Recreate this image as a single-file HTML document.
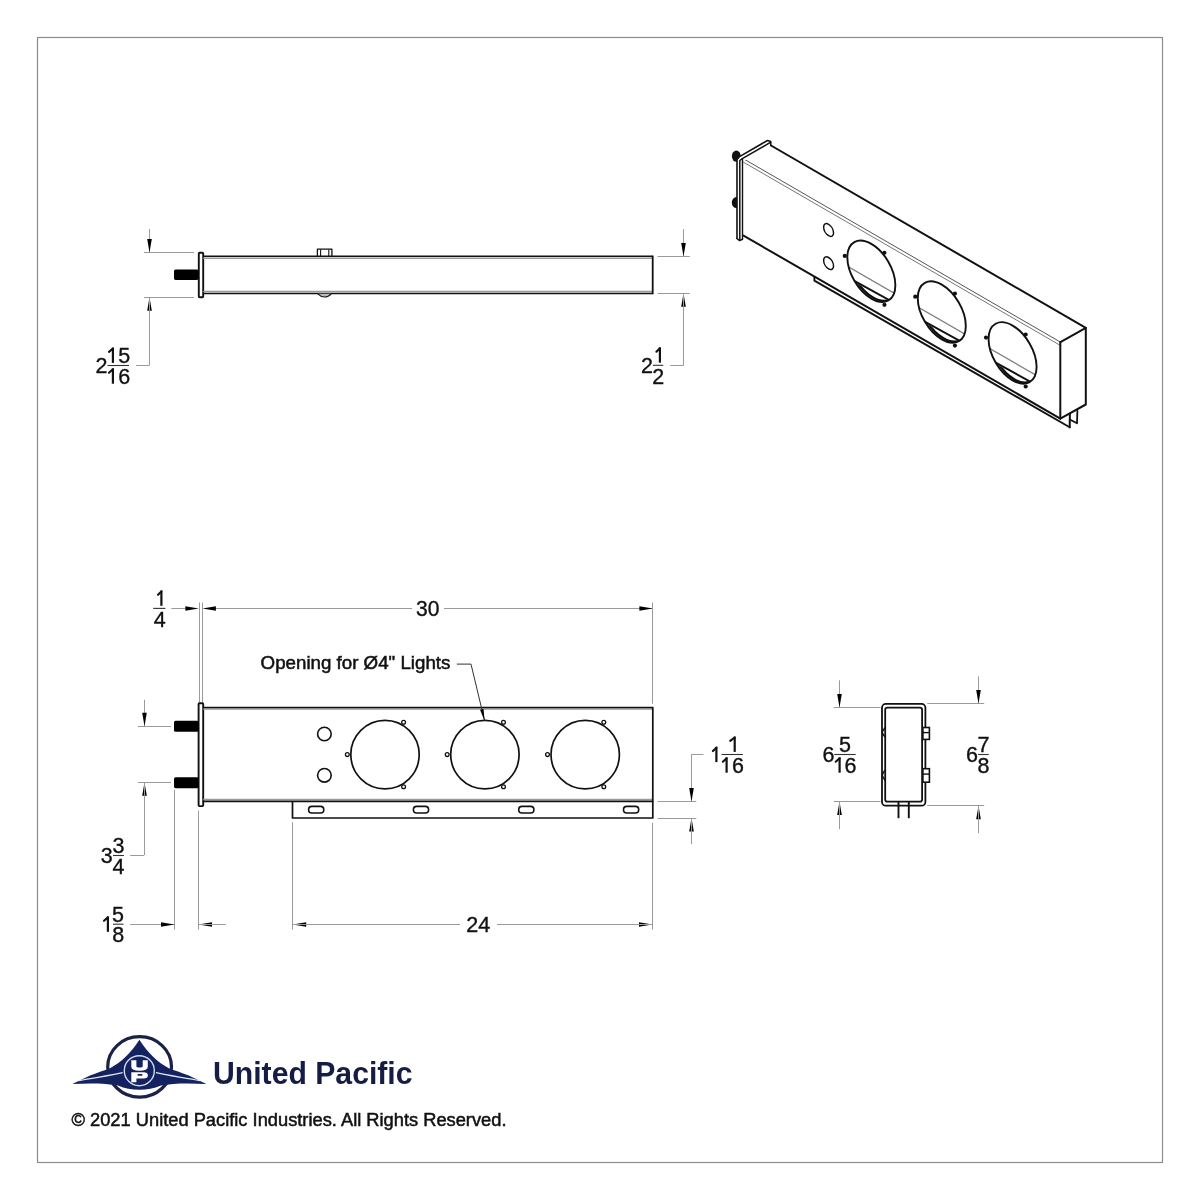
<!DOCTYPE html>
<html><head><meta charset="utf-8"><style>html,body{margin:0;padding:0;background:#fff;width:1200px;height:1200px;overflow:hidden}svg{display:block;will-change:transform}</style></head><body>
<svg width="1200" height="1200" viewBox="0 0 1200 1200" font-family="Liberation Sans, sans-serif">
<rect x="0" y="0" width="1200" height="1200" fill="#fff"/>
<rect x="37.5" y="37.5" width="1125" height="1125" fill="none" stroke="#8c8c8c" stroke-width="1.2"/>
<line x1="149.50" y1="229.00" x2="149.50" y2="252.50" stroke="#9a9a9a" stroke-width="1" />
<polygon points="149.50,252.50 147.20,239.00 151.80,239.00" fill="#000"/>
<line x1="144.00" y1="252.50" x2="194.00" y2="252.50" stroke="#9a9a9a" stroke-width="1" />
<line x1="144.00" y1="297.50" x2="194.00" y2="297.50" stroke="#9a9a9a" stroke-width="1" />
<polygon points="149.50,297.30 151.80,310.80 147.20,310.80" fill="#000"/>
<line x1="149.50" y1="297.30" x2="149.50" y2="365.30" stroke="#9a9a9a" stroke-width="1" />
<line x1="136.00" y1="365.50" x2="149.50" y2="365.50" stroke="#9a9a9a" stroke-width="1" />
<rect x="198.8" y="252.8" width="4.4" height="44.4" fill="#fff" stroke="#111" stroke-width="1.9" rx="0.8"/>
<rect x="174" y="269.4" width="24.5" height="10.5" rx="1.6" fill="#000"/>
<line x1="203.20" y1="256.30" x2="652.70" y2="256.30" stroke="#111" stroke-width="1.5" />
<line x1="203.20" y1="258.20" x2="652.70" y2="258.20" stroke="#9a9a9a" stroke-width="1.4" />
<line x1="203.20" y1="291.50" x2="652.70" y2="291.50" stroke="#9a9a9a" stroke-width="1.4" />
<line x1="203.20" y1="293.50" x2="652.70" y2="293.50" stroke="#111" stroke-width="1.5" />
<line x1="652.70" y1="255.60" x2="652.70" y2="294.20" stroke="#111" stroke-width="1.8" />
<polyline points="317.40,256.00 317.40,249.20 331.90,249.20 331.90,256.00" fill="none" stroke="#111" stroke-width="1.3" stroke-linejoin="round" />
<line x1="320.60" y1="249.50" x2="320.60" y2="256.00" stroke="#111" stroke-width="1.1" />
<line x1="328.80" y1="249.50" x2="328.80" y2="256.00" stroke="#111" stroke-width="1.1" />
<path d="M317.8,293.8 Q321,297 324.6,297 Q328.3,297 331.3,293.8" fill="#bbb" stroke="#111" stroke-width="1.2"/>
<line x1="683.50" y1="229.00" x2="683.50" y2="256.40" stroke="#9a9a9a" stroke-width="1" />
<polygon points="683.50,256.40 681.20,242.90 685.80,242.90" fill="#000"/>
<line x1="657.50" y1="256.50" x2="689.70" y2="256.50" stroke="#9a9a9a" stroke-width="1" />
<line x1="657.50" y1="293.50" x2="689.70" y2="293.50" stroke="#9a9a9a" stroke-width="1" />
<polygon points="683.50,293.30 685.80,306.80 681.20,306.80" fill="#000"/>
<line x1="683.50" y1="293.30" x2="683.50" y2="365.20" stroke="#9a9a9a" stroke-width="1" />
<line x1="670.20" y1="365.50" x2="683.70" y2="365.50" stroke="#9a9a9a" stroke-width="1" />
<line x1="171.30" y1="608.50" x2="185.00" y2="608.50" stroke="#9a9a9a" stroke-width="1" />
<polygon points="198.80,608.50 185.30,610.80 185.30,606.20" fill="#000"/>
<line x1="216.00" y1="608.50" x2="412.00" y2="608.50" stroke="#9a9a9a" stroke-width="1" />
<polygon points="202.40,608.50 215.90,606.20 215.90,610.80" fill="#000"/>
<line x1="444.00" y1="608.50" x2="652.90" y2="608.50" stroke="#9a9a9a" stroke-width="1" />
<polygon points="652.90,608.50 639.40,610.80 639.40,606.20" fill="#000"/>
<line x1="199.50" y1="602.50" x2="199.50" y2="702.50" stroke="#9a9a9a" stroke-width="1" />
<line x1="202.50" y1="602.50" x2="202.50" y2="702.50" stroke="#9a9a9a" stroke-width="1" />
<line x1="652.50" y1="602.50" x2="652.50" y2="703.80" stroke="#9a9a9a" stroke-width="1" />
<rect x="198.6" y="703.3" width="4.6" height="102.8" fill="#fff" stroke="#111" stroke-width="1.9" rx="0.8"/>
<rect x="174" y="720.8" width="24.6" height="11" rx="1.6" fill="#000"/>
<rect x="174" y="777.2" width="24.6" height="11" rx="1.6" fill="#000"/>
<line x1="203.20" y1="709.00" x2="652.00" y2="709.00" stroke="#9a9a9a" stroke-width="1.5" />
<line x1="203.20" y1="799.60" x2="652.00" y2="799.60" stroke="#9a9a9a" stroke-width="1.5" />
<polyline points="203.20,707.50 652.80,707.50 652.80,801.40 203.20,801.40" fill="none" stroke="#111" stroke-width="1.7" stroke-linejoin="round" />
<polyline points="292.50,801.50 292.50,818.00 652.80,818.00 652.80,801.50" fill="none" stroke="#111" stroke-width="1.7" stroke-linejoin="round" />
<rect x="308.60" y="806.4" width="15.2" height="6.6" rx="3.3" fill="none" stroke="#111" stroke-width="1.6"/>
<rect x="413.40" y="806.4" width="15.2" height="6.6" rx="3.3" fill="none" stroke="#111" stroke-width="1.6"/>
<rect x="518.70" y="806.4" width="15.2" height="6.6" rx="3.3" fill="none" stroke="#111" stroke-width="1.6"/>
<rect x="623.50" y="806.4" width="15.2" height="6.6" rx="3.3" fill="none" stroke="#111" stroke-width="1.6"/>
<circle cx="324.4" cy="734" r="6.8" fill="none" stroke="#111" stroke-width="1.6"/>
<circle cx="324.4" cy="775.3" r="6.8" fill="none" stroke="#111" stroke-width="1.6"/>
<circle cx="385" cy="754.6" r="34.2" fill="none" stroke="#111" stroke-width="1.7"/>
<circle cx="403.60" cy="722.20" r="1.9" fill="none" stroke="#111" stroke-width="1.3"/>
<circle cx="347.30" cy="754.60" r="1.9" fill="none" stroke="#111" stroke-width="1.3"/>
<circle cx="403.60" cy="786.80" r="1.9" fill="none" stroke="#111" stroke-width="1.3"/>
<circle cx="484.9" cy="754.6" r="34.2" fill="none" stroke="#111" stroke-width="1.7"/>
<circle cx="503.50" cy="722.20" r="1.9" fill="none" stroke="#111" stroke-width="1.3"/>
<circle cx="447.20" cy="754.60" r="1.9" fill="none" stroke="#111" stroke-width="1.3"/>
<circle cx="503.50" cy="786.80" r="1.9" fill="none" stroke="#111" stroke-width="1.3"/>
<circle cx="585.2" cy="754.6" r="34.2" fill="none" stroke="#111" stroke-width="1.7"/>
<circle cx="603.80" cy="722.20" r="1.9" fill="none" stroke="#111" stroke-width="1.3"/>
<circle cx="547.50" cy="754.60" r="1.9" fill="none" stroke="#111" stroke-width="1.3"/>
<circle cx="603.80" cy="786.80" r="1.9" fill="none" stroke="#111" stroke-width="1.3"/>
<line x1="456.80" y1="664.10" x2="471.00" y2="664.10" stroke="#333" stroke-width="1" />
<line x1="471.00" y1="664.10" x2="484.60" y2="720.80" stroke="#333" stroke-width="1" />
<polygon points="484.60,721.00 480.05,709.75 483.55,708.91" fill="#000"/>
<line x1="144.50" y1="699.80" x2="144.50" y2="726.20" stroke="#9a9a9a" stroke-width="1" />
<polygon points="144.50,726.20 142.20,712.70 146.80,712.70" fill="#000"/>
<line x1="137.80" y1="726.50" x2="171.00" y2="726.50" stroke="#9a9a9a" stroke-width="1" />
<line x1="137.80" y1="782.50" x2="171.00" y2="782.50" stroke="#9a9a9a" stroke-width="1" />
<polygon points="144.50,782.20 146.80,795.70 142.20,795.70" fill="#000"/>
<line x1="144.50" y1="782.20" x2="144.50" y2="855.00" stroke="#9a9a9a" stroke-width="1" />
<line x1="130.10" y1="855.50" x2="144.10" y2="855.50" stroke="#9a9a9a" stroke-width="1" />
<line x1="130.10" y1="924.50" x2="174.50" y2="924.50" stroke="#9a9a9a" stroke-width="1" />
<polygon points="174.50,924.50 161.00,926.80 161.00,922.20" fill="#000"/>
<line x1="174.50" y1="789.60" x2="174.50" y2="929.60" stroke="#9a9a9a" stroke-width="1" />
<line x1="198.50" y1="810.60" x2="198.50" y2="929.60" stroke="#9a9a9a" stroke-width="1" />
<polygon points="198.50,924.50 212.00,922.20 212.00,926.80" fill="#000"/>
<line x1="198.50" y1="924.50" x2="225.80" y2="924.50" stroke="#9a9a9a" stroke-width="1" />
<line x1="292.50" y1="822.30" x2="292.50" y2="929.60" stroke="#9a9a9a" stroke-width="1" />
<line x1="652.50" y1="822.80" x2="652.50" y2="929.60" stroke="#9a9a9a" stroke-width="1" />
<polygon points="292.70,924.50 306.20,922.20 306.20,926.80" fill="#000"/>
<polygon points="652.50,924.50 639.00,926.80 639.00,922.20" fill="#000"/>
<line x1="292.70" y1="924.50" x2="460.00" y2="924.50" stroke="#9a9a9a" stroke-width="1" />
<line x1="497.00" y1="924.50" x2="652.50" y2="924.50" stroke="#9a9a9a" stroke-width="1" />
<line x1="657.50" y1="801.50" x2="696.30" y2="801.50" stroke="#9a9a9a" stroke-width="1" />
<line x1="657.50" y1="818.50" x2="696.30" y2="818.50" stroke="#9a9a9a" stroke-width="1" />
<line x1="691.50" y1="754.80" x2="691.50" y2="801.50" stroke="#9a9a9a" stroke-width="1" />
<polygon points="691.50,801.50 689.20,788.00 693.80,788.00" fill="#000"/>
<polygon points="691.50,818.00 693.80,831.50 689.20,831.50" fill="#000"/>
<line x1="691.50" y1="818.00" x2="691.50" y2="844.00" stroke="#9a9a9a" stroke-width="1" />
<line x1="691.20" y1="754.50" x2="703.40" y2="754.50" stroke="#9a9a9a" stroke-width="1" />
<rect x="882" y="703.9" width="43.4" height="101.8" rx="3.8" fill="none" stroke="#111" stroke-width="1.8"/>
<rect x="885.2" y="707.7" width="36.9" height="94" rx="2.2" fill="none" stroke="#111" stroke-width="1.8"/>
<rect x="922.9" y="727.5" width="6.5" height="11.9" fill="#fff" stroke="#111" stroke-width="1.6"/>
<line x1="922.90" y1="732.60" x2="929.40" y2="732.60" stroke="#111" stroke-width="1.4" />
<rect x="922.9" y="768.7" width="6.5" height="13.5" fill="#fff" stroke="#111" stroke-width="1.6"/>
<line x1="922.90" y1="774.10" x2="929.40" y2="774.10" stroke="#111" stroke-width="1.4" />
<path d="M885.2,727.5 Q882.5,730.9 882.3,732.4 Q882.5,733.9 885.2,737.2" fill="none" stroke="#111" stroke-width="1.4"/>
<path d="M885.2,769.8 Q882.5,773.7 882.3,775.2 Q882.5,776.7 885.2,780.6" fill="none" stroke="#111" stroke-width="1.4"/>
<line x1="898.50" y1="802.00" x2="898.50" y2="818.20" stroke="#111" stroke-width="1.9" />
<line x1="908.80" y1="802.00" x2="908.80" y2="818.20" stroke="#111" stroke-width="1.9" />
<line x1="833.70" y1="707.50" x2="880.50" y2="707.50" stroke="#9a9a9a" stroke-width="1" />
<line x1="833.70" y1="801.50" x2="880.50" y2="801.50" stroke="#9a9a9a" stroke-width="1" />
<line x1="839.50" y1="680.30" x2="839.50" y2="707.50" stroke="#9a9a9a" stroke-width="1" />
<polygon points="839.50,707.50 837.20,694.00 841.80,694.00" fill="#000"/>
<polygon points="839.50,801.40 841.80,814.90 837.20,814.90" fill="#000"/>
<line x1="839.50" y1="801.40" x2="839.50" y2="829.10" stroke="#9a9a9a" stroke-width="1" />
<line x1="927.20" y1="703.50" x2="984.20" y2="703.50" stroke="#9a9a9a" stroke-width="1" />
<line x1="927.20" y1="805.50" x2="984.20" y2="805.50" stroke="#9a9a9a" stroke-width="1" />
<line x1="978.50" y1="676.30" x2="978.50" y2="703.60" stroke="#9a9a9a" stroke-width="1" />
<polygon points="978.50,703.60 976.20,690.10 980.80,690.10" fill="#000"/>
<polygon points="978.50,805.80 980.80,819.30 976.20,819.30" fill="#000"/>
<line x1="978.50" y1="805.80" x2="978.50" y2="833.10" stroke="#9a9a9a" stroke-width="1" />
<text x="427.8" y="616" font-size="21.5" text-anchor="middle" fill="#111" stroke="#111" stroke-width="0.35" textLength="23.4" lengthAdjust="spacingAndGlyphs">30</text>
<text x="260.6" y="669.4" font-size="17.5" text-anchor="start" fill="#111" stroke="#111" stroke-width="0.5" font-weight="normal" textLength="189.8" lengthAdjust="spacingAndGlyphs">Opening for Ø4" Lights</text>
<text x="478.3" y="931.7" font-size="21.5" text-anchor="middle" fill="#111" stroke="#111" stroke-width="0.35" textLength="24" lengthAdjust="spacingAndGlyphs">24</text>
<line x1="107.50" y1="365.50" x2="129.00" y2="365.50" stroke="#333" stroke-width="1.1" />
<path d="M112.90,347.60 V362.90" stroke="#111" stroke-width="2.2" fill="none"/>
<path d="M112.90,348.50 L109.00,351.90" stroke="#111" stroke-width="2.1" stroke-linecap="round" fill="none"/>
<text x="124.25" y="362.9" font-size="21.5" text-anchor="middle" fill="#111" stroke="#111" stroke-width="0.35">5</text>
<path d="M112.90,368.40 V383.70" stroke="#111" stroke-width="2.2" fill="none"/>
<path d="M112.90,369.30 L109.00,372.70" stroke="#111" stroke-width="2.1" stroke-linecap="round" fill="none"/>
<text x="124.25" y="383.7" font-size="21.5" text-anchor="middle" fill="#111" stroke="#111" stroke-width="0.35">6</text>
<text x="101.6" y="373.1" font-size="21.5" text-anchor="middle" fill="#111" stroke="#111" stroke-width="0.35">2</text>
<line x1="652.90" y1="365.30" x2="663.30" y2="365.30" stroke="#333" stroke-width="1.1" />
<path d="M659.90,347.40 V362.70" stroke="#111" stroke-width="2.2" fill="none"/>
<path d="M659.90,348.30 L656.40,351.70" stroke="#111" stroke-width="2.1" stroke-linecap="round" fill="none"/>
<text x="658.3" y="383.5" font-size="21.5" text-anchor="middle" fill="#111" stroke="#111" stroke-width="0.35">2</text>
<text x="647.1" y="372.90000000000003" font-size="21.5" text-anchor="middle" fill="#111" stroke="#111" stroke-width="0.35">2</text>
<line x1="153.25" y1="608.40" x2="165.40" y2="608.40" stroke="#333" stroke-width="1.1" />
<path d="M161.40,590.50 V605.80" stroke="#111" stroke-width="2.2" fill="none"/>
<path d="M161.40,591.40 L158.00,594.80" stroke="#111" stroke-width="2.1" stroke-linecap="round" fill="none"/>
<text x="159.625" y="626.6" font-size="21.5" text-anchor="middle" fill="#111" stroke="#111" stroke-width="0.35">4</text>
<line x1="113.00" y1="855.50" x2="124.00" y2="855.50" stroke="#333" stroke-width="1.1" />
<text x="118.5" y="852.9" font-size="21.5" text-anchor="middle" fill="#111" stroke="#111" stroke-width="0.35">3</text>
<text x="118.5" y="873.7" font-size="21.5" text-anchor="middle" fill="#111" stroke="#111" stroke-width="0.35">4</text>
<text x="106.75" y="863.1" font-size="21.5" text-anchor="middle" fill="#111" stroke="#111" stroke-width="0.35">3</text>
<line x1="113.00" y1="924.20" x2="123.50" y2="924.20" stroke="#333" stroke-width="1.1" />
<text x="118.0" y="921.6" font-size="21.5" text-anchor="middle" fill="#111" stroke="#111" stroke-width="0.35">5</text>
<text x="118.25" y="942.4000000000001" font-size="21.5" text-anchor="middle" fill="#111" stroke="#111" stroke-width="0.35">8</text>
<path d="M107.90,916.50 V931.80" stroke="#111" stroke-width="2.2" fill="none"/>
<path d="M107.90,917.40 L104.00,920.80" stroke="#111" stroke-width="2.1" stroke-linecap="round" fill="none"/>
<line x1="721.50" y1="754.50" x2="742.90" y2="754.50" stroke="#333" stroke-width="1.1" />
<path d="M734.70,736.60 V751.90" stroke="#111" stroke-width="2.2" fill="none"/>
<path d="M734.70,737.50 L730.20,740.90" stroke="#111" stroke-width="2.1" stroke-linecap="round" fill="none"/>
<path d="M726.60,757.40 V772.70" stroke="#111" stroke-width="2.2" fill="none"/>
<path d="M726.60,758.30 L722.90,761.70" stroke="#111" stroke-width="2.1" stroke-linecap="round" fill="none"/>
<text x="738.0" y="772.7" font-size="21.5" text-anchor="middle" fill="#111" stroke="#111" stroke-width="0.35">6</text>
<path d="M716.40,746.80 V762.10" stroke="#111" stroke-width="2.2" fill="none"/>
<path d="M716.40,747.70 L712.90,751.10" stroke="#111" stroke-width="2.1" stroke-linecap="round" fill="none"/>
<line x1="834.25" y1="754.50" x2="855.70" y2="754.50" stroke="#333" stroke-width="1.1" />
<text x="845.1" y="751.9" font-size="21.5" text-anchor="middle" fill="#111" stroke="#111" stroke-width="0.35">5</text>
<path d="M839.60,757.40 V772.70" stroke="#111" stroke-width="2.2" fill="none"/>
<path d="M839.60,758.30 L835.70,761.70" stroke="#111" stroke-width="2.1" stroke-linecap="round" fill="none"/>
<text x="850.5" y="772.7" font-size="21.5" text-anchor="middle" fill="#111" stroke="#111" stroke-width="0.35">6</text>
<text x="828.5" y="762.1" font-size="21.5" text-anchor="middle" fill="#111" stroke="#111" stroke-width="0.35">6</text>
<line x1="978.10" y1="754.50" x2="988.75" y2="754.50" stroke="#333" stroke-width="1.1" />
<text x="983.45" y="751.9" font-size="21.5" text-anchor="middle" fill="#111" stroke="#111" stroke-width="0.35">7</text>
<text x="983.425" y="772.7" font-size="21.5" text-anchor="middle" fill="#111" stroke="#111" stroke-width="0.35">8</text>
<text x="972.0" y="762.1" font-size="21.5" text-anchor="middle" fill="#111" stroke="#111" stroke-width="0.35">6</text>
<path d="M771.00,145.50 L1085.80,327.90" fill="none" stroke="#111" stroke-width="2.0" stroke-linejoin="round" stroke-linecap="round" />
<path d="M743.50,158.80 L1060.40,342.10" fill="none" stroke="#555" stroke-width="1.0" stroke-linejoin="round" stroke-linecap="round" />
<path d="M743.50,162.20 L1060.00,345.20" fill="none" stroke="#777" stroke-width="1.0" stroke-linejoin="round" stroke-linecap="round" />
<path d="M1060.40,342.10 L1085.80,327.90 L1085.80,404.50 L1060.30,418.60" fill="none" stroke="#111" stroke-width="2.0" stroke-linejoin="round" stroke-linecap="round" />
<path d="M1060.30,342.50 L1060.30,418.60" fill="none" stroke="#111" stroke-width="2.0" stroke-linejoin="round" stroke-linecap="round" />
<path d="M743.50,235.60 L1060.30,418.60" fill="none" stroke="#111" stroke-width="2.0" stroke-linejoin="round" stroke-linecap="round" />
<path d="M814.40,277.00 L814.40,280.60 L1069.70,427.30" fill="none" stroke="#111" stroke-width="1.9" stroke-linejoin="round" stroke-linecap="round" />
<path d="M1069.70,427.30 L1069.90,413.80" fill="none" stroke="#111" stroke-width="2.0" stroke-linejoin="round" stroke-linecap="round" />
<path d="M1070.30,419.80 L1077.00,423.30 L1077.40,410.80" fill="none" stroke="#111" stroke-width="1.8" stroke-linejoin="round" stroke-linecap="round" />
<ellipse cx="736.3" cy="156.2" rx="4.4" ry="5.6" fill="#111"/>
<ellipse cx="736.3" cy="202.6" rx="4.5" ry="5.5" fill="#111"/>
<path d="M737.00,238.50 L737.00,159.50 L739.50,156.60 L767.50,140.50 L770.60,141.60 L770.80,145.40 L742.50,161.50 L742.50,239.80 L739.50,240.80 Z" fill="#fff" stroke="#fff" stroke-width="0.1" stroke-linejoin="round" stroke-linecap="round" />
<path d="M737.00,238.50 L737.00,159.50 L739.50,156.60 L767.50,140.50 L770.60,141.60 L770.80,145.40" fill="none" stroke="#111" stroke-width="1.6" stroke-linejoin="round" stroke-linecap="round" />
<path d="M739.80,239.50 L739.80,160.50 L742.30,158.60 L770.80,142.20" fill="none" stroke="#111" stroke-width="1.5" stroke-linejoin="round" stroke-linecap="round" />
<path d="M737.00,238.50 L739.60,240.60 L742.50,239.20" fill="none" stroke="#111" stroke-width="1.5" stroke-linejoin="round" stroke-linecap="round" />
<path d="M742.50,159.50 L742.50,239.20" fill="none" stroke="#111" stroke-width="1.4" stroke-linejoin="round" stroke-linecap="round" />
<circle cx="0" cy="0" r="0.47" transform="matrix(10.58,6.12,0,12.07,828.59,230.00)" fill="none" stroke="#111" stroke-width="1.5" vector-effect="non-scaling-stroke"/>
<circle cx="0" cy="0" r="0.47" transform="matrix(10.58,6.12,0,12.07,828.59,263.19)" fill="none" stroke="#111" stroke-width="1.5" vector-effect="non-scaling-stroke"/>
<clipPath id="hc0"><circle cx="0" cy="0" r="2.27" transform="matrix(10.58,6.12,0,12.07,871.34,271.26)"/></clipPath>
<g clip-path="url(#hc0)">
<line x1="831.34" y1="256.88" x2="911.34" y2="303.04" stroke="#808080" stroke-width="1.3"/>
<line x1="831.34" y1="268.26" x2="911.34" y2="312.26" stroke="#111" stroke-width="1.9"/>
<g clip-path="url(#hc0b)"><circle cx="0" cy="0" r="2.27" transform="translate(1.6,-1.1) matrix(10.58,6.12,0,12.07,871.34,271.26)" fill="none" stroke="#111" stroke-width="2.4" vector-effect="non-scaling-stroke"/></g>
</g>
<clipPath id="hc0b"><polygon points="831.34,269.26 911.34,313.26 911.34,331.26 831.34,331.26"/></clipPath>
<circle cx="0" cy="0" r="2.27" transform="matrix(10.58,6.12,0,12.07,871.34,271.26)" fill="none" stroke="#111" stroke-width="1.9" vector-effect="non-scaling-stroke"/>
<circle cx="884.45" cy="252.77" r="2.1" fill="#111"/>
<circle cx="844.78" cy="255.89" r="2.1" fill="#111"/>
<circle cx="884.45" cy="304.80" r="2.1" fill="#111"/>
<clipPath id="hc1"><circle cx="0" cy="0" r="2.27" transform="matrix(10.58,6.12,0,12.07,941.80,312.02)"/></clipPath>
<g clip-path="url(#hc1)">
<line x1="901.80" y1="297.64" x2="981.80" y2="343.80" stroke="#808080" stroke-width="1.3"/>
<line x1="901.80" y1="309.02" x2="981.80" y2="353.02" stroke="#111" stroke-width="1.9"/>
<g clip-path="url(#hc1b)"><circle cx="0" cy="0" r="2.27" transform="translate(1.6,-1.1) matrix(10.58,6.12,0,12.07,941.80,312.02)" fill="none" stroke="#111" stroke-width="2.4" vector-effect="non-scaling-stroke"/></g>
</g>
<clipPath id="hc1b"><polygon points="901.80,310.02 981.80,354.02 981.80,372.02 901.80,372.02"/></clipPath>
<circle cx="0" cy="0" r="2.27" transform="matrix(10.58,6.12,0,12.07,941.80,312.02)" fill="none" stroke="#111" stroke-width="1.9" vector-effect="non-scaling-stroke"/>
<circle cx="954.92" cy="293.53" r="2.1" fill="#111"/>
<circle cx="915.24" cy="296.65" r="2.1" fill="#111"/>
<circle cx="954.92" cy="345.55" r="2.1" fill="#111"/>
<clipPath id="hc2"><circle cx="0" cy="0" r="2.27" transform="matrix(10.58,6.12,0,12.07,1012.58,352.96)"/></clipPath>
<g clip-path="url(#hc2)">
<line x1="972.58" y1="338.58" x2="1052.58" y2="384.74" stroke="#808080" stroke-width="1.3"/>
<line x1="972.58" y1="349.96" x2="1052.58" y2="393.96" stroke="#111" stroke-width="1.9"/>
<g clip-path="url(#hc2b)"><circle cx="0" cy="0" r="2.27" transform="translate(1.6,-1.1) matrix(10.58,6.12,0,12.07,1012.58,352.96)" fill="none" stroke="#111" stroke-width="2.4" vector-effect="non-scaling-stroke"/></g>
</g>
<clipPath id="hc2b"><polygon points="972.58,350.96 1052.58,394.96 1052.58,412.96 972.58,412.96"/></clipPath>
<circle cx="0" cy="0" r="2.27" transform="matrix(10.58,6.12,0,12.07,1012.58,352.96)" fill="none" stroke="#111" stroke-width="1.9" vector-effect="non-scaling-stroke"/>
<circle cx="1025.70" cy="334.48" r="2.1" fill="#111"/>
<circle cx="986.02" cy="337.60" r="2.1" fill="#111"/>
<circle cx="1025.70" cy="386.50" r="2.1" fill="#111"/>
<g id="logo">
<ellipse cx="139.6" cy="1066.9" rx="31.9" ry="30.2" fill="none" stroke="#1b2248" stroke-width="3.2"/>
<path d="M72.4,1083.9 L90,1075.6 C98,1072.2 104,1070.6 110,1068.2 C121,1062.5 131,1053 139.4,1039.8 C147.8,1053 157.8,1062.5 168.8,1068.2 C174.8,1070.6 180.8,1072.2 188.8,1075.6 L206.4,1083.9 C188,1083 172,1083.2 161,1085.5 C154,1088.5 147,1089.8 139.4,1089.8 C131.8,1089.8 124.8,1088.5 117.8,1085.5 C106.8,1083.2 90.8,1083 72.4,1083.9 Z" fill="#14235f"/>
<path d="M79,1080.6 C95,1077.5 112,1075.5 125,1072.2" fill="none" stroke="#dfe7f7" stroke-width="1.3" stroke-linecap="round"/>
<path d="M199.8,1080.6 C183.8,1077.5 166.8,1075.5 153.8,1072.2" fill="none" stroke="#dfe7f7" stroke-width="1.3" stroke-linecap="round"/>
<circle cx="139.3" cy="1070.7" r="16.8" fill="#14235f"/>
<circle cx="139.3" cy="1070.7" r="15" fill="none" stroke="#cfdaf2" stroke-width="1.4"/>
<path d="M131.3,1060.2 H136.4 V1066.2 Q136.4,1067.6 139.5,1067.6 Q142.7,1067.6 142.7,1066.2 V1060.2 H147.8 V1066.8 Q147.8,1070.8 139.5,1070.8 Q131.3,1070.8 131.3,1066.8 Z" fill="#fff"/>
<path d="M131.3,1072.3 H143.5 Q147.9,1072.3 147.9,1075.3 Q147.9,1078.6 143.5,1078.6 H136.4 V1082.3 H131.3 Z M137.6,1073.9 V1075.7 H142.3 V1073.9 Z" fill="#fff" fill-rule="evenodd"/>
<text x="213.0" y="1083.8" font-size="31" font-weight="bold" fill="#161d44" textLength="199.5" lengthAdjust="spacingAndGlyphs">United Pacific</text>
</g>

<text x="71.5" y="1126" font-size="17.5" text-anchor="start" fill="#111" stroke="#111" stroke-width="0.5" font-weight="normal" textLength="435" lengthAdjust="spacingAndGlyphs">© 2021 United Pacific Industries. All Rights Reserved.</text>
</svg>
</body></html>
